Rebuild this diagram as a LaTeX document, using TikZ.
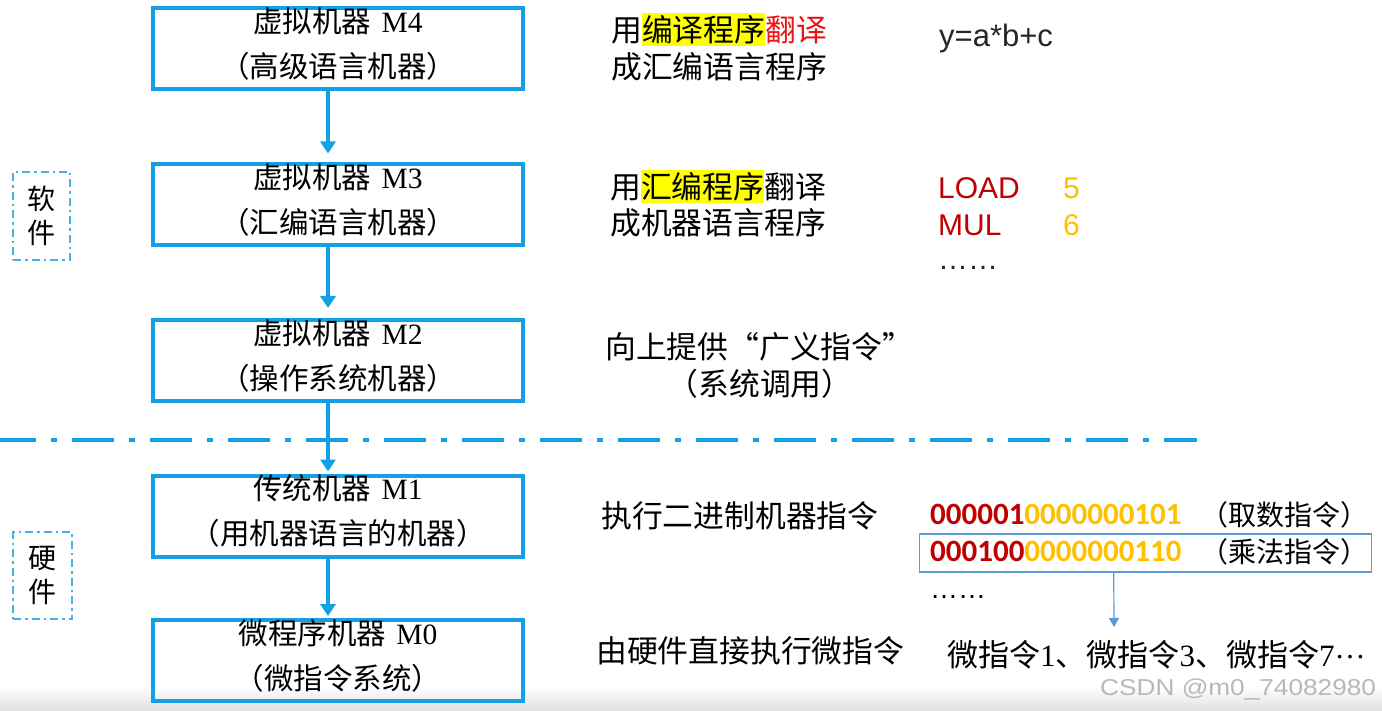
\documentclass[tikz,border=0pt]{standalone}
\usepackage{fontspec}
\setmainfont{Liberation Serif}
\newfontfamily\cjk{Noto Sans CJK SC}
\newfontfamily\ari{Liberation Sans}
\newfontfamily\carl{Carlito}
\usetikzlibrary{arrows.meta,calc}
\definecolor{boxblue}{RGB}{20,160,228}
\definecolor{lblblue}{RGB}{70,178,228}
\definecolor{rowblue}{RGB}{91,155,213}
\definecolor{dkred}{RGB}{192,0,0}
\definecolor{gold}{RGB}{255,192,0}
\definecolor{hlred}{RGB}{235,20,20}
\definecolor{hlyellow}{RGB}{255,255,0}
\definecolor{txtgray}{RGB}{38,38,38}
\newcommand\hlbox[1]{{\setlength\fboxsep{0pt}\colorbox{hlyellow}{\rule[-5pt]{0pt}{33pt}#1}}}
\tikzset{
  mbox/.style={draw=boxblue, line width=4pt, minimum width=370pt, minimum height=81pt, inner sep=0pt},
  mtxt/.style={inner sep=0pt, anchor=center, font=\fontsize{29.5}{34}\selectfont},
  conn/.style={draw=boxblue, line width=4pt, -{Triangle[width=15pt,length=12pt]}},
  sepline/.style={draw=boxblue, line width=4pt, dash pattern=on 42pt off 15pt on 6pt off 15pt, dash phase=6pt},
  lblbox/.style={draw=lblblue, line width=1.8pt, dash pattern=on 8pt off 4pt on 2.5pt off 4pt, align=center, inner sep=0pt, font=\cjk\fontsize{28}{34.5}\selectfont},
  rtxt/.style={anchor=west, inner sep=0pt, font=\cjk\fontsize{30.8}{36}\selectfont},
  sanstxt/.style={anchor=base west, inner sep=0pt, font=\ari\fontsize{30}{36}\selectfont},
  bintxt/.style={anchor=base west, inner sep=0pt, font=\carl\bfseries\fontsize{31}{36}\selectfont},
  partxt/.style={anchor=base west, inner sep=0pt, font=\cjk\fontsize{28}{34}\selectfont},
}
\begin{document}
\begin{tikzpicture}[x=1pt,y=-1pt]
\useasboundingbox (0,0) rectangle (1382,711);
\fill[white] (0,0) rectangle (1382,711);
\shade[top color=white, bottom color=black!12] (0,686) rectangle (1382,711);

% machine boxes
\node[mbox] (m4) at (338,49) {};
\node[mbox] (m3) at (338,205) {};
\node[mbox] (m2) at (338,360.5) {};
\node[mbox] (m1) at (338,516) {};
\node[mbox] (m0) at (338,660.5) {};

\node[mtxt] (m4a) at ($(m4.center)+(0,-27.5)$) {{\cjk 虚拟机器}\hspace{3pt} M4};
\node[mtxt] (m4b) at ($(m4.center)+(0,17.5)$) {\cjk （高级语言机器）};
\node[mtxt] (m3a) at ($(m3.center)+(0,-27.5)$) {{\cjk 虚拟机器}\hspace{3pt} M3};
\node[mtxt] (m3b) at ($(m3.center)+(0,17.5)$) {\cjk （汇编语言机器）};
\node[mtxt] (m2a) at ($(m2.center)+(0,-27.5)$) {{\cjk 虚拟机器}\hspace{3pt} M2};
\node[mtxt] (m2b) at ($(m2.center)+(0,17.5)$) {\cjk （操作系统机器）};
\node[mtxt] (m1a) at ($(m1.center)+(0,-27.5)$) {{\cjk 传统机器}\hspace{3pt} M1};
\node[mtxt] (m1b) at ($(m1.center)+(0,17.5)$) {\cjk （用机器语言的机器）};
\node[mtxt] (m0a) at ($(m0.center)+(0,-27.5)$) {{\cjk 微程序机器}\hspace{3pt} M0};
\node[mtxt] (m0b) at ($(m0.center)+(0,17.5)$) {\cjk （微指令系统）};

% separator
\coordinate (sepL) at (0,440);
\coordinate (sepR) at (1197,440);
\draw[sepline] (sepL) -- (sepR);

% connectors
\draw[conn, shorten >=9pt] ($(m4.south)+(-10,0)$) -- ($(m3.north)+(-10,0)$);
\draw[conn, shorten >=10pt] ($(m3.south)+(-10,0)$) -- ($(m2.north)+(-10,0)$);
\draw[conn, shorten >=2pt] ($(m2.south)+(-10,0)$) -- ($(m1.north)+(-10,0)$);
\draw[conn, shorten >=2pt] ($(m1.south)+(-10,0)$) -- ($(m0.north)+(-10,0)$);

% side labels
\node[lblbox, minimum width=57pt, minimum height=88pt] (soft) at (41.5,216) {软\\件};
\node[lblbox, minimum width=59pt, minimum height=87pt] (hard) at (42.5,575.5) {硬\\件};

% middle column
\node[rtxt] (t4a) at (611,30) {用\hlbox{编译程序}\textcolor{hlred}{翻译}};
\node[rtxt] (t4b) at (611,67) {成汇编语言程序};
\node[rtxt] (t3a) at (610,187) {用\hlbox{汇编程序}翻译};
\node[rtxt] (t3b) at (610,223) {成机器语言程序};
\node[rtxt] (t2a) at (605,347) {向上提供“广义指令”};
\node[rtxt, anchor=center] (t2b) at (760,384) {（系统调用）};
\node[rtxt] (t1) at (601,516) {执行二进制机器指令};
\node[rtxt] (t0) at (596,651) {由硬件直接执行微指令};

% right column
\node[sanstxt, font=\ari\fontsize{31}{36}\selectfont, text=txtgray] (expr) at (939,47) {y=a*b+c};
\node[sanstxt, text=dkred] (load) at (938,199) {LOAD};
\node[sanstxt, text=gold] (five) at (1063,199) {5};
\node[sanstxt, text=dkred] (mul) at (938,236) {MUL};
\node[sanstxt, text=gold] (six) at (1063,236) {6};
\node[sanstxt, text=txtgray] (dotsA) at (938,270) {……};

\node[bintxt] (bin1) at (930,524) {\textcolor{dkred}{000001}\textcolor{gold}{0000000101}};
\node[partxt] (par1) at (1200,525) {（取数指令）};
\node[bintxt] (bin2) at (930,561) {\textcolor{dkred}{000100}\textcolor{gold}{0000000110}};
\node[partxt] (par2) at (1200,562) {（乘法指令）};
\node[draw=rowblue, line width=1.5pt, minimum width=452pt, minimum height=38pt, inner sep=0pt] (rowbox) at (1145.5,553) {};
\coordinate (tip) at (1114,627);
\draw[draw=rowblue, line width=1.2pt, -{Triangle[width=10pt,length=9pt]}] ($(rowbox.south west)+(195,0)$) -- (tip);
\node[sanstxt, font=\ari\fontsize{28}{34}\selectfont] (dotsB) at (930,598) {……};
\node[anchor=base west, inner sep=0pt, font=\fontsize{31}{36}\selectfont] (micro) at (947,666) {{\cjk 微指令}1{\cjk 、微指令}3{\cjk 、微指令}7\raisebox{8pt}{…}};

% watermark
\node[anchor=base west, inner sep=0pt, font=\ari\fontsize{23}{28}\selectfont, text=black!28, xscale=1.14] (wm) at (1100,695) {CSDN @m0\_74082980};
\end{tikzpicture}
\end{document}
